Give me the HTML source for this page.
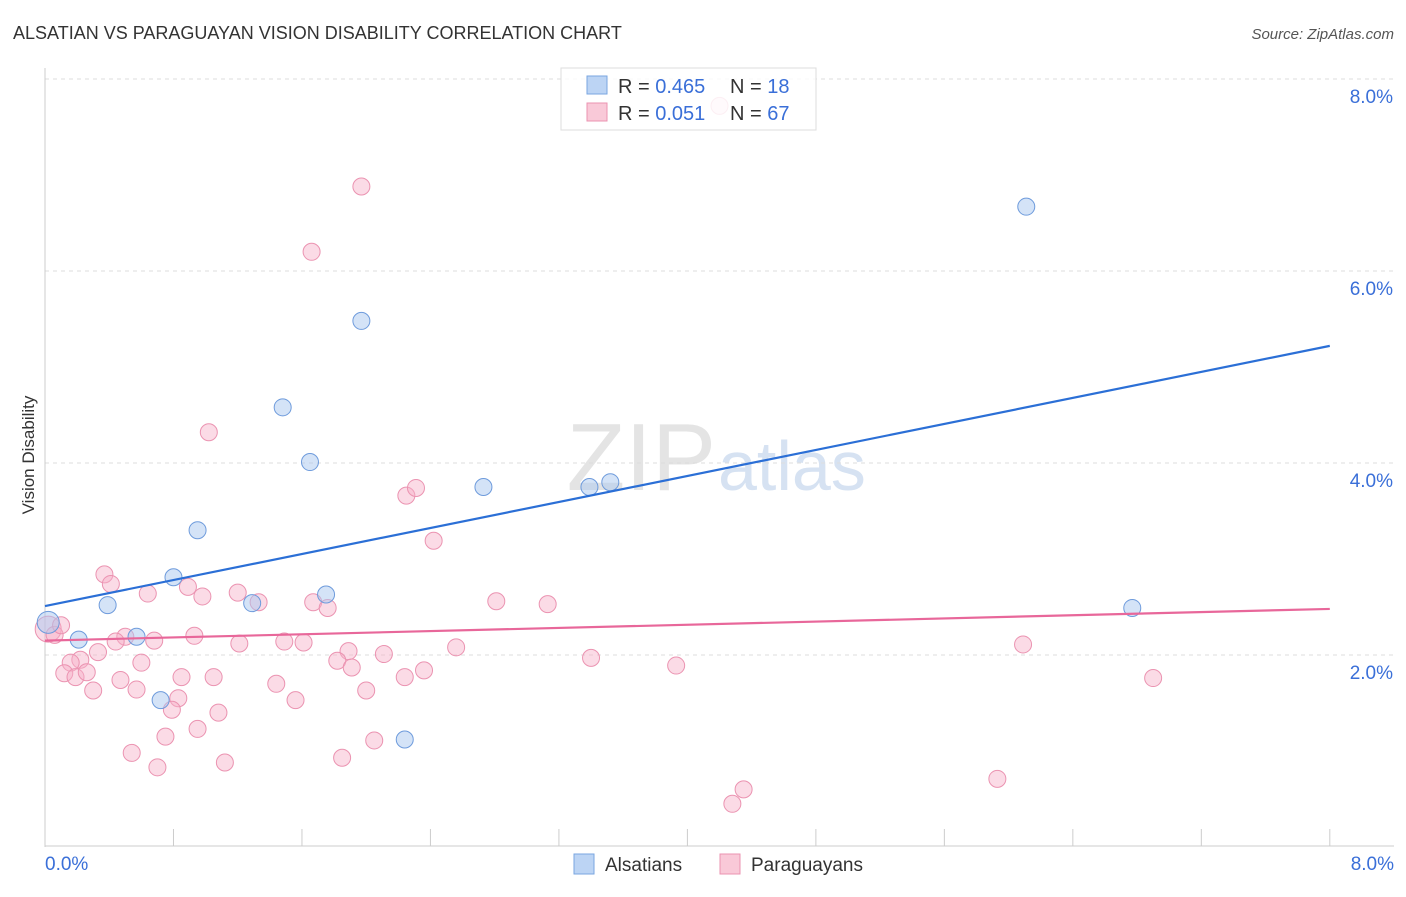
<!DOCTYPE html>
<html><head><meta charset="utf-8"><style>
body{margin:0;background:#fff;font-family:"Liberation Sans",sans-serif}
svg text{font-family:"Liberation Sans",sans-serif}
</style></head><body>
<svg id="chart" width="1406" height="892" xmlns="http://www.w3.org/2000/svg">
<text x="13" y="39" font-size="18" fill="#333">ALSATIAN VS PARAGUAYAN VISION DISABILITY CORRELATION CHART</text>
<text x="1394" y="39" font-size="15" fill="#555" font-style="italic" text-anchor="end">Source: ZipAtlas.com</text>
<text x="716" y="490" font-size="96" fill="#e4e4e4" font-family="Liberation Serif" text-anchor="end">ZIP</text>
<text x="718" y="490" font-size="70" fill="#d6e2f2">atlas</text>
<text transform="translate(34,455) rotate(-90)" font-size="17" fill="#333" text-anchor="middle">Vision Disability</text>
<g id="grid"></g><g id="axes"></g><g id="marks"></g>
<g>
<rect x="561" y="68" width="255" height="62" fill="rgba(255,255,255,0.85)" stroke="#ddd"/>
<rect x="587" y="76" width="20" height="18" fill="#bcd4f4" stroke="#7aa6e0"/>
<rect x="587" y="103" width="20" height="18" fill="#f9c9d8" stroke="#eb93b1"/>
<text x="618" y="93" font-size="20" fill="#333">R = <tspan fill="#3a6fd8">0.465</tspan></text>
<text x="730" y="93" font-size="20" fill="#333">N = <tspan fill="#3a6fd8"> 18</tspan></text>
<text x="618" y="120" font-size="20" fill="#333">R = <tspan fill="#3a6fd8"> 0.051</tspan></text>
<text x="730" y="120" font-size="20" fill="#333">N = <tspan fill="#3a6fd8">67</tspan></text>
</g>
<g>
<rect x="574" y="854" width="20" height="20" fill="#bcd4f4" stroke="#7aa6e0"/>
<text x="605" y="871" font-size="19" fill="#333">Alsatians</text>
<rect x="720" y="854" width="20" height="20" fill="#f9c9d8" stroke="#eb93b1"/>
<text x="751" y="871" font-size="19" fill="#333">Paraguayans</text>
</g>
</svg>
<script>
const yTicks=[2,4,6,8];
const yTickLabels=["2.0%","4.0%","6.0%","8.0%"];
const xTickLabels=["0.0%","8.0%"];
const alsX=[0.02,0.21,0.39,0.57,0.72,0.80,0.95,1.29,1.48,1.65,1.75,1.97,2.24,2.73,3.39,3.52,6.11,6.77];
const alsY=[2.34,2.16,2.52,2.19,1.53,2.81,3.30,2.54,4.58,4.01,2.63,5.48,1.12,3.75,3.75,3.80,6.67,2.49];
const parX=[0.02,0.06,0.10,1.97,1.66,4.20,1.02,2.25,2.31,2.42,0.37,0.41,0.64,0.89,0.98,1.20,1.33,1.67,1.76,2.81,3.13,0.93,1.21,1.49,1.61,1.89,2.11,2.56,3.40,3.93,6.09,6.90,0.50,0.44,0.68,0.33,0.22,0.16,0.12,0.19,0.26,0.60,0.47,0.30,0.57,0.85,1.05,1.44,1.82,1.91,2.24,2.36,2.00,1.56,0.83,0.79,1.08,0.95,0.75,2.05,0.54,0.70,1.12,1.85,5.93,4.35,4.28];
const parY=[2.27,2.21,2.31,6.88,6.20,7.72,4.32,3.66,3.74,3.19,2.84,2.74,2.64,2.71,2.61,2.65,2.55,2.55,2.49,2.56,2.53,2.20,2.12,2.14,2.13,2.04,2.01,2.08,1.97,1.89,2.11,1.76,2.19,2.14,2.15,2.03,1.95,1.92,1.81,1.77,1.82,1.92,1.74,1.63,1.64,1.77,1.77,1.70,1.94,1.87,1.77,1.84,1.63,1.53,1.55,1.43,1.40,1.23,1.15,1.11,0.98,0.83,0.88,0.93,0.71,0.60,0.45];
const alsLine=[2.51,5.22];
const parLine=[2.15,2.48];
const ns="http://www.w3.org/2000/svg";
const X=v=>45+v*160.6, Y=v=>847-v*96;
function mk(t,a,p){const e=document.createElementNS(ns,t);for(const k in a)e.setAttribute(k,a[k]);document.getElementById(p).appendChild(e);return e;}
yTicks.forEach((t,i)=>{
 const g=mk('line',{x1:45,x2:1394,y1:Y(t),y2:Y(t),stroke:'#ddd','stroke-dasharray':'4,4'},'grid');
 
 
 const l=mk('text',{x:1393,y:Y(t)+24,'font-size':19,fill:'#3a6fd8','text-anchor':'end'},'axes');
 l.textContent=yTickLabels[i];
 
 
});
const ya=mk('line',{x1:45,x2:45,y1:68,y2:847,stroke:'#ccc'},'axes');


const xa=mk('line',{x1:45,x2:1394,y1:846,y2:846,stroke:'#ccc'},'axes');


for(let i=0;i<=10;i++){const t=mk('line',{x1:X(i*0.8),x2:X(i*0.8),y1:829,y2:846,stroke:'#ccc'},'axes');
 
 }
[[0,'start',45],[8,'end',1394]].forEach((d,i)=>{const l=mk('text',{x:d[2],y:870,'font-size':19,fill:'#3a6fd8','text-anchor':d[1]},'axes');l.textContent=xTickLabels[i];
 
 });
parX.forEach((x,i)=>{const c=mk('circle',{cx:X(x),cy:Y(parY[i]),r:i==0?13:8.5,fill:'rgba(246,175,200,0.45)',stroke:'#eb93b1','stroke-width':1},'marks');
 
 });
alsX.forEach((x,i)=>{const c=mk('circle',{cx:X(x),cy:Y(alsY[i]),r:i==0?11:8.5,fill:'rgba(170,200,240,0.5)',stroke:'#6e9bdc','stroke-width':1},'marks');
 
 });
const bl=mk('line',{x1:X(0),y1:Y(alsLine[0]),x2:X(8),y2:Y(alsLine[1]),stroke:'#2b6fd6','stroke-width':2.2},'marks');


const pl=mk('line',{x1:X(0),y1:Y(parLine[0]),x2:X(8),y2:Y(parLine[1]),stroke:'#e8679a','stroke-width':2.2},'marks');


</script>
</body></html>
